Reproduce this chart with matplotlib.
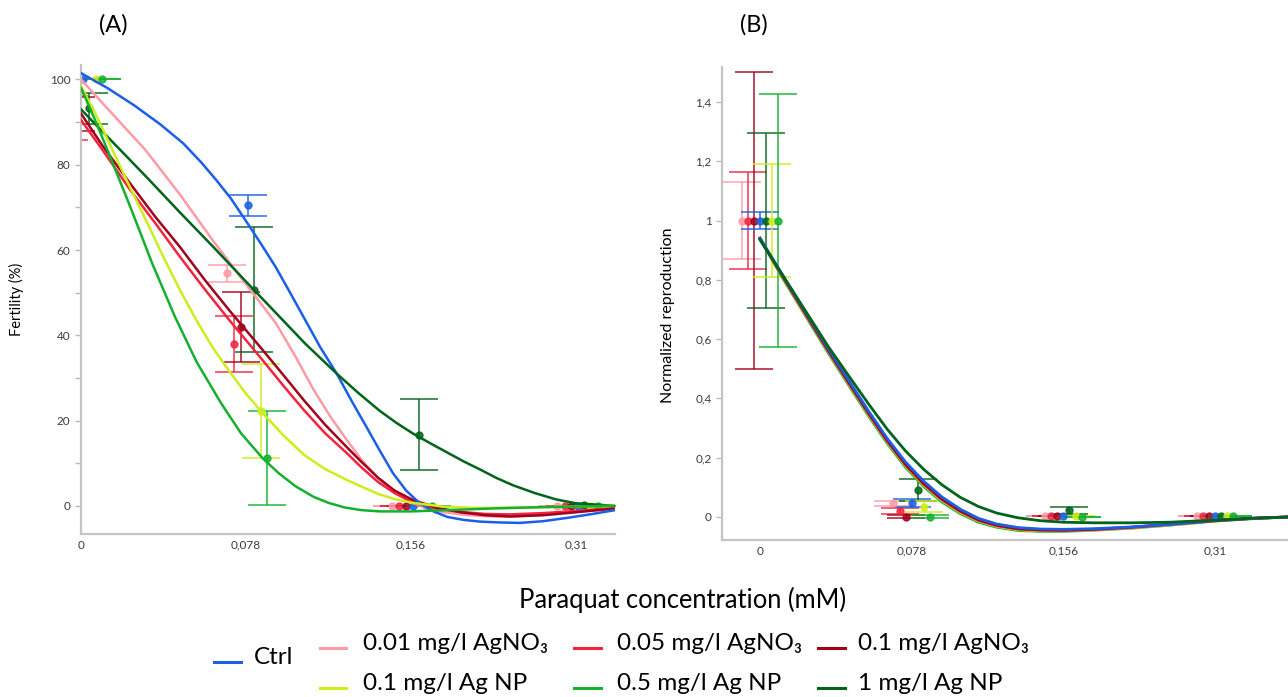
import matplotlib
matplotlib.use("Agg")
import matplotlib.pyplot as plt
from matplotlib.lines import Line2D

# series (order of the jitter inside each concentration group)
labels = ["0.01 mg/l AgNO₃", "0.05 mg/l AgNO₃", "0.1 mg/l AgNO₃", "Ctrl",
          "1 mg/l Ag NP", "0.1 mg/l Ag NP", "0.5 mg/l Ag NP"]
colors = ["#ff9aa6", "#f2243e", "#a3001c", "#1a5fe6", "#00641a", "#cdee1c", "#14b12e"]
conc_labels = ["0", "0,078", "0,156", "0,31"]

# (A) fertility %, mean and error at each concentration
fert_mean = [[95, 54.5, 0, 0], [91, 38, 0, 0], [92, 42, 0, 0], [100, 70.5, 0, 0],
             [93.2, 50.7, 16.7, 0.3], [100, 22.2, 0, 0], [100, 11.2, 0, 0]]
fert_err = [[4.5, 1.9, 0, 0], [5.2, 6.5, 0, 0], [4, 8.2, 0, 0], [0, 2.5, 0, 0],
            [3.6, 14.6, 8.3, 0], [0, 11, 0, 0], [0, 11, 0, 0]]

# (A) fitted curves
pink_x = [0, 0.2, 0.39, 0.6, 0.8, 1.0, 1.18, 1.3, 1.41, 1.51, 1.61, 1.7, 1.8, 1.9, 2.01, 2.1, 2.2, 2.35, 2.5, 2.65, 2.8, 3.0, 3.236]
pink_y = [100, 91.5, 83.5, 73, 62.2, 52, 42.9, 35, 27.2, 21, 15.5, 10.8, 6.5, 3.3, 0.7, -0.7, -1.5, -2.2, -2.5, -2.4, -2, -1.4, -0.7]
red_x = [0, 0.13, 0.3, 0.45, 0.6, 0.75, 0.9, 1.1, 1.23, 1.35, 1.48, 1.61, 1.7, 1.8, 1.9, 2.01, 2.15, 2.3, 2.45, 2.6, 2.8, 3.0, 3.236]
red_y = [90.5, 83.5, 74, 66.3, 58.4, 50.8, 43.5, 34.2, 28, 22.5, 17, 12.4, 9, 5.6, 3, 0.8, -0.6, -1.4, -1.9, -2, -1.7, -1.2, -0.5]
dkred_x = red_x
dkred_y = [92, 84.5, 75.5, 67.8, 60.7, 53, 45.8, 36.6, 30.5, 24.8, 19, 13.8, 10.3, 6.6, 3.6, 1.4, -0.4, -1.5, -2.2, -2.5, -2.2, -1.5, -0.6]
ctrl_x = [0, 0.16, 0.32, 0.48, 0.62, 0.73, 0.82, 0.91, 1.0, 1.09, 1.18, 1.27, 1.36, 1.45, 1.55, 1.64, 1.73, 1.81, 1.89, 1.97, 2.05, 2.13, 2.22, 2.32, 2.42, 2.54, 2.66, 2.8, 2.95, 3.1, 3.236]
ctrl_y = [101.5, 98, 94, 89.5, 85, 80.5, 76.4, 72, 66.8, 61.5, 56, 49.8, 43.5, 37.2, 31, 24.6, 18.5, 13, 7.7, 3.6, 0.7, -1.2, -2.6, -3.3, -3.7, -3.9, -4, -3.6, -2.8, -1.9, -1.0]
np1_x = [0, 0.2, 0.4, 0.6, 0.8, 1.0, 1.18, 1.36, 1.55, 1.68, 1.81, 1.91, 2.01, 2.12, 2.22, 2.32, 2.42, 2.52, 2.62, 2.75, 2.88, 3.0, 3.236]
np1_y = [93, 85, 77, 68.8, 60.8, 52.6, 45.3, 38, 31, 26.5, 22.3, 19.5, 17, 14.6, 12.5, 10.4, 8.5, 6.5, 4.8, 3, 1.5, 0.6, 0]
np01_x = [0, 0.1, 0.19, 0.3, 0.4, 0.5, 0.6, 0.7, 0.8, 0.9, 1.0, 1.1, 1.22, 1.35, 1.48, 1.61, 1.7, 1.8, 1.9, 2.01, 2.2, 2.4, 2.8, 3.236]
np01_y = [98.5, 91, 83.5, 74.5, 66.5, 58.3, 50.6, 43.5, 37, 31.5, 26.3, 21.8, 16.8, 12, 8.6, 6.1, 4.5, 2.8, 1.6, 0.7, -0.2, -0.5, -0.3, 0]
np05_x = [0, 0.08, 0.16, 0.3, 0.43, 0.57, 0.7, 0.85, 0.97, 1.1, 1.2, 1.3, 1.41, 1.5, 1.6, 1.7, 1.81, 2.0, 2.22, 2.5, 2.8, 3.236]
np05_y = [98, 91, 83.5, 70, 57, 44.3, 33.8, 24, 17, 11.2, 7.6, 4.6, 2.1, 0.7, -0.4, -1.0, -1.3, -1.3, -1.0, -0.6, -0.3, 0]
fitA_x = [pink_x, red_x, dkred_x, ctrl_x, np1_x, np01_x, np05_x]
fitA_y = [pink_y, red_y, dkred_y, ctrl_y, np1_y, np01_y, np05_y]

# (B) normalized reproduction
repro_mean = [[1, 0.046, 0.003, 0.003], [1, 0.02, 0.003, 0.003], [1, 0.001, 0.003, 0.003],
              [1, 0.048, 0.003, 0.003], [1, 0.091, 0.022, 0.003], [1, 0.035, 0.003, 0.003],
              [1, 0.001, 0.001, 0.003]]
repro_err = [[0.131, 0.008, 0, 0], [0.165, 0.011, 0, 0], [0.5, 0.004, 0, 0], [0.029, 0.013, 0, 0],
             [0.295, 0.036, 0.012, 0], [0.19, 0.018, 0, 0], [0.428, 0.004, 0, 0]]

fitB_x = [0, 0.15, 0.3, 0.45, 0.6, 0.72, 0.84, 0.96, 1.08, 1.2, 1.32, 1.44, 1.56, 1.7, 1.85, 2.0, 2.2, 2.45, 2.7, 3.0, 3.25, 3.5]
pinkB_y = [0.94, 0.813, 0.689, 0.564, 0.444, 0.349, 0.259, 0.179, 0.114, 0.062, 0.021, -0.009, -0.027, -0.038, -0.043, -0.044, -0.041, -0.035, -0.025, -0.013, -0.005, 0]
redB_y = [0.94, 0.81, 0.685, 0.56, 0.44, 0.345, 0.255, 0.175, 0.11, 0.058, 0.018, -0.012, -0.03, -0.041, -0.045, -0.046, -0.043, -0.036, -0.026, -0.013, -0.005, 0]
dkredB_y = [0.94, 0.812, 0.687, 0.562, 0.442, 0.347, 0.257, 0.177, 0.112, 0.06, 0.02, -0.01, -0.028, -0.04, -0.044, -0.045, -0.042, -0.035, -0.025, -0.013, -0.005, 0]
ctrlB_y = [0.94, 0.816, 0.692, 0.568, 0.449, 0.354, 0.264, 0.185, 0.12, 0.067, 0.026, -0.005, -0.024, -0.036, -0.041, -0.042, -0.04, -0.034, -0.025, -0.012, -0.005, 0]
np1B_y = [0.935, 0.815, 0.695, 0.575, 0.465, 0.378, 0.295, 0.222, 0.16, 0.108, 0.066, 0.035, 0.013, -0.003, -0.013, -0.018, -0.02, -0.02, -0.018, -0.011, -0.004, 0]
np01B_y = [0.94, 0.808, 0.683, 0.558, 0.437, 0.342, 0.252, 0.172, 0.107, 0.055, 0.015, -0.014, -0.032, -0.043, -0.047, -0.047, -0.044, -0.037, -0.027, -0.014, -0.006, 0]
np05B_y = [0.94, 0.805, 0.679, 0.553, 0.432, 0.337, 0.247, 0.167, 0.102, 0.05, 0.011, -0.018, -0.035, -0.046, -0.049, -0.049, -0.045, -0.038, -0.028, -0.014, -0.006, 0]
fitB_y = [pinkB_y, redB_y, dkredB_y, ctrlB_y, np1B_y, np01B_y, np05B_y]

jitterA = [-0.115, -0.07, -0.03, 0.01, 0.05, 0.09, 0.13]
jitterB = [-0.12, -0.08, -0.04, 0.0, 0.04, 0.08, 0.12]

plt.rcParams["font.family"] = ["Lato", "DejaVu Sans"]
fig = plt.figure(figsize=(12.88, 6.97), dpi=100)

axA = fig.add_axes([81 / 1288, 1 - 534 / 697, 534 / 1288, 469 / 697])
axB = fig.add_axes([722 / 1288, 1 - 540 / 697, 566 / 1288, 473 / 697])

def style(ax):
    for s in ["top", "right"]:
        ax.spines[s].set_visible(False)
    for s in ["left", "bottom"]:
        ax.spines[s].set_color("#c4c4c4")
        ax.spines[s].set_linewidth(1.6)
    ax.tick_params(axis="y", which="both", direction="out", color="#b8b8b8",
                   labelsize=8.5, labelcolor="#3c3c3c", length=4, width=1)
    ax.tick_params(axis="x", length=0, labelsize=8.5, labelcolor="#3c3c3c", pad=4)
    ax.set_xticks(range(4))
    ax.set_xticklabels(conc_labels)

for i in range(7):
    xs = [p + jitterA[i] for p in range(4)]
    axA.errorbar(xs, fert_mean[i], yerr=fert_err[i], fmt="o", color=colors[i], ms=5,
                 elinewidth=1.2, capsize=14, capthick=1.2, alpha=0.85, zorder=2)
    axA.plot(fitA_x[i], fitA_y[i], color=colors[i], lw=1.8, zorder=3)

    xs = [p + jitterB[i] for p in range(4)]
    axB.errorbar(xs, repro_mean[i], yerr=repro_err[i], fmt="o", color=colors[i], ms=5,
                 elinewidth=1.2, capsize=14, capthick=1.2, alpha=0.85, zorder=2)
for i in [6, 5, 1, 0, 2, 3, 4]:
    axB.plot(fitB_x, fitB_y[i], color=colors[i], lw=2.0, zorder=3)

style(axA)
axA.set_xlim(0, 3.236)
axA.set_ylim(-6.6, 103.4)
axA.set_yticks([0, 20, 40, 60, 80, 100])
axA.set_yticks([10, 30, 50, 70, 90], minor=True)
axA.set_ylabel("Fertility (%)", fontsize=10.5)
axA.yaxis.set_label_coords(-0.107, 0.5)

style(axB)
axB.set_xlim(-0.25, 3.48)
axB.set_ylim(-0.078, 1.518)
b_ticks = [0, 0.2, 0.4, 0.6, 0.8, 1.0, 1.2, 1.4]
axB.set_yticks(b_ticks)
axB.set_yticklabels(["0", "0,2", "0,4", "0,6", "0,8", "1", "1,2", "1,4"])
axB.set_ylabel("Normalized reproduction", fontsize=11.5)
axB.yaxis.set_label_coords(-0.083, 0.476)

fig.text(113 / 1288, 1 - 25 / 697, "(A)", fontsize=17, ha="center", va="center")
fig.text(754 / 1288, 1 - 25 / 697, "(B)", fontsize=17, ha="center", va="center")
fig.text(683 / 1288, 1 - 600 / 697, "Paraquat concentration (mM)", fontsize=18.4,
         ha="center", va="center")

# legend drawn by hand to keep the original arrangement
legend_items = [
    (3, 214, 241, 662, 254, 658),
    (0, 320, 346, 648, 363, 644), (1, 574, 601, 648, 617, 644), (2, 818, 845, 648, 858, 644),
    (5, 320, 346, 688, 363, 683), (6, 574, 601, 688, 617, 683), (4, 818, 845, 688, 858, 683),
]
for i, x0, x1, y, tx, ty in legend_items:
    fig.add_artist(Line2D([x0 / 1288, x1 / 1288], [1 - y / 697, 1 - y / 697],
                          transform=fig.transFigure, color=colors[i], lw=2.2))
    fig.text(tx / 1288, 1 - ty / 697, labels[i], fontsize=17.5, ha="left", va="center")

fig.savefig("out.png", dpi=100)
